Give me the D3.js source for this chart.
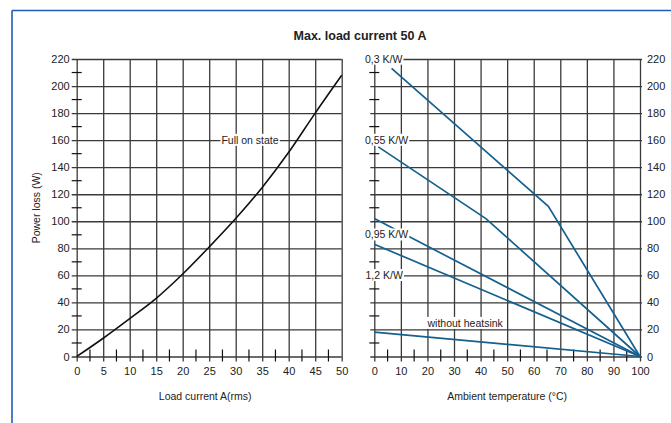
<!DOCTYPE html>
<html><head><meta charset="utf-8">
<script src="https://cdn.jsdelivr.net/npm/d3@7"></script>
<style>
body{margin:0;background:#fff;}
svg text{font-family:"Liberation Sans",Arial,sans-serif;fill:#222;}
</style></head>
<body><svg id="c" width="671" height="423"></svg>
<script>
// ---- data ----
const title = "Max. load current 50 A";
const currentTicks = [0,5,10,15,20,25,30,35,40,45,50];
const currentMinor = [2.5,7.5,12.5,17.5,22.5,27.5,32.5,37.5,42.5,47.5];
const powerTicks = [0,20,40,60,80,100,120,140,160,180,200,220];
const powerMinor = [10,30,50,70,90,110,130,150,170,190,210];
const tempTicks = [0,10,20,30,40,50,60,70,80,90,100];
const tempMinor = [5,15,25,35,45,55,65,75,85,95];

const currentA = [0,5,10,15,20,25,30,35,40,45,50];
const fullOnPower = [0,13.5,28,43,61,81,102,125,151,180,208];

const hsNames = ["0,3 K/W","0,55 K/W","0,95 K/W","1,2 K/W","without heatsink"];
const hs03T = [6.5,65.5,100],  hs03P = [213,111,0];
const hs055T = [1.5,42,100],   hs055P = [155,102,0];
const hs095T = [0,100],        hs095P = [102,0];
const hs12T = [0,100],         hs12P = [83,0];
const hsNoneT = [0,100],       hsNoneP = [18,0];

// ---- layout ----
const svg = d3.select("#c");
const frameBlue = "#1f5cb8", lineBlue = "#14608f", gridC = "#3a3a3a";
const xL = d3.scaleLinear([0,50],[76.7,341.7]);
const xR = d3.scaleLinear([0,100],[374.3,640]);
const y = d3.scaleLinear([0,220],[356.5,59]);

// frame
svg.append("line").attr("x1",12).attr("x2",671).attr("y1",10.5).attr("y2",10.5).attr("stroke",frameBlue).attr("stroke-width",1.6);
svg.append("line").attr("x1",12).attr("x2",12).attr("y1",10.5).attr("y2",423).attr("stroke",frameBlue).attr("stroke-width",1.6);

svg.append("text").attr("x",360).attr("y",40).attr("text-anchor","middle")
  .style("font-size","12.5px").style("font-weight","bold").text(title);

function styleAxis(g){
  g.select(".domain").remove();
  g.selectAll(".tick line").attr("stroke",gridC).attr("stroke-width",1.3);
  g.selectAll(".tick text").style("font-size","11px").attr("fill","#222");
}

// left panel
const wL = xL.range()[1]-xL.range()[0], h = y.range()[0]-y.range()[1];
svg.append("g").attr("transform",`translate(${xL(0)},0)`)
  .call(d3.axisLeft(y).tickValues(powerTicks).tickSizeInner(-wL).tickPadding(7).tickFormat(d3.format("d")))
  .call(styleAxis).call(g=>g.selectAll(".tick line").attr("x1",-5));
svg.append("g").attr("transform",`translate(0,${y(0)})`)
  .call(d3.axisBottom(xL).tickValues(currentTicks).tickSizeInner(-h).tickPadding(11).tickFormat(d3.format("d")))
  .call(styleAxis).call(g=>g.selectAll(".tick line").attr("y1",5));
// minor ticks
svg.append("g").selectAll("line").data(powerMinor).join("line")
  .attr("x1",xL(0)-5).attr("x2",xL(0)+5).attr("y1",d=>y(d)).attr("y2",d=>y(d)).attr("stroke","#111").attr("stroke-width",1.2);
svg.append("g").selectAll("line").data(currentMinor).join("line")
  .attr("x1",d=>xL(d)).attr("x2",d=>xL(d)).attr("y1",y(0)-7).attr("y2",y(0)+5).attr("stroke","#111").attr("stroke-width",1.2);

// right panel
const wR = xR.range()[1]-xR.range()[0];
svg.append("g").attr("transform",`translate(${xR(100)},0)`)
  .call(d3.axisRight(y).tickValues(powerTicks).tickSizeInner(-(wR+4)).tickPadding(7).tickFormat(d3.format("d")))
  .call(styleAxis).call(g=>g.selectAll(".tick line").attr("x1",2));
svg.append("g").attr("transform",`translate(0,${y(0)})`)
  .call(d3.axisBottom(xR).tickValues(tempTicks).tickSizeInner(-h).tickPadding(11).tickFormat(d3.format("d")))
  .call(styleAxis).call(g=>g.selectAll(".tick line").attr("y1",5));
svg.append("g").selectAll("line").data(powerMinor).join("line")
  .attr("x1",xR(0)-5).attr("x2",xR(0)+5).attr("y1",d=>y(d)).attr("y2",d=>y(d)).attr("stroke","#111").attr("stroke-width",1.2);
svg.append("g").selectAll("line").data(tempMinor).join("line")
  .attr("x1",d=>xR(d)).attr("x2",d=>xR(d)).attr("y1",y(0)-7).attr("y2",y(0)+5).attr("stroke","#111").attr("stroke-width",1.2);

// axis titles
svg.append("text").attr("x",(xL(0)+xL(50))/2-4).attr("y",400).attr("text-anchor","middle").style("font-size","10.5px").text("Load current A(rms)");
svg.append("text").attr("x",(xR(0)+xR(100))/2).attr("y",400).attr("text-anchor","middle").style("font-size","10.5px").text("Ambient temperature (°C)");
svg.append("text").attr("transform",`translate(40,${(y(0)+y(220))/2}) rotate(-90)`).attr("text-anchor","middle").style("font-size","10.5px").text("Power loss (W)");

// full on state curve
const lineL = d3.line().x(d=>xL(d[0])).y(d=>y(d[1])).curve(d3.curveMonotoneX);
svg.append("path").datum(d3.zip(currentA,fullOnPower)).attr("d",lineL).attr("fill","none").attr("stroke","#111").attr("stroke-width",1.6);

// heatsink lines
const lineR = d3.line().x(d=>xR(d[0])).y(d=>y(d[1]));
const hsSeries = [[hs03T,hs03P],[hs055T,hs055P],[hs095T,hs095P],[hs12T,hs12P],[hsNoneT,hsNoneP]];
svg.append("g").selectAll("path").data(hsSeries).join("path")
  .attr("d",s=>lineR(d3.zip(s[0],s[1]))).attr("fill","none").attr("stroke",lineBlue).attr("stroke-width",1.7);

// labels with white background
function label(x, yv, txt, anchor){
  const g = svg.append("g");
  const r = g.append("rect").attr("fill","#fff");
  const t = g.append("text").attr("x",x).attr("y",yv).attr("dy","0.35em").attr("text-anchor",anchor).style("font-size","10.5px").text(txt);
  const b = t.node().getBBox();
  r.attr("x",b.x-1).attr("y",b.y).attr("width",b.width+2).attr("height",b.height);
}
label(xL(32.7), y(160), "Full on state", "middle");
label(365, y(220), hsNames[0], "start");
label(365, y(160), hsNames[1], "start");
label(365, y(90), hsNames[2], "start");
label(365.5, y(60), hsNames[3], "start");
label(xR(34.2), y(24.6), hsNames[4], "middle");
</script></body></html>
